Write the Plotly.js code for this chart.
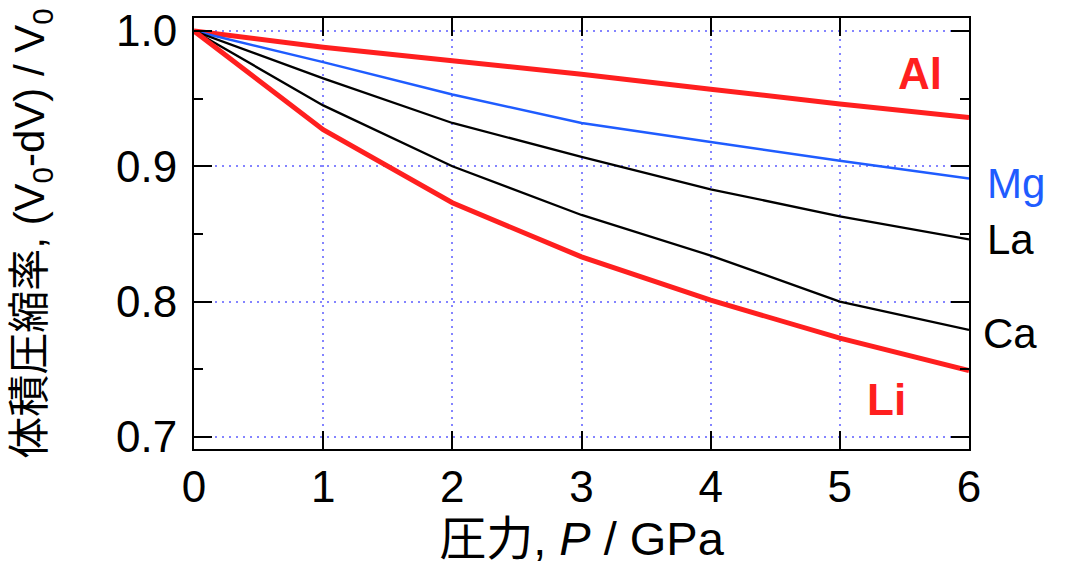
<!DOCTYPE html>
<html>
<head>
<meta charset="utf-8">
<script src="https://cdn.plot.ly/plotly-3.0.1.min.js"></script>
<style>
  html, body { margin: 0; padding: 0; background: #fff; }
  #chart { width: 1068px; height: 568px; }
</style>
</head>
<body>
<div id="chart"></div>
<script>
// Pressure (GPa) and relative volume V/V0 for each metal
const pressure = [0, 1, 2, 3, 4, 5, 6];
const al = [1.000, 0.988, 0.978, 0.968, 0.957, 0.946, 0.936];
const mg = [1.000, 0.977, 0.953, 0.932, 0.918, 0.904, 0.891];
const la = [1.000, 0.965, 0.932, 0.907, 0.883, 0.863, 0.846];
const ca = [1.000, 0.945, 0.900, 0.864, 0.834, 0.800, 0.779];
const li = [1.000, 0.927, 0.873, 0.833, 0.801, 0.773, 0.749];

const xTicks = [0, 1, 2, 3, 4, 5, 6];
const yTicks = [0.7, 0.8, 0.9, 1.0];
const yTickText = ['0.7', '0.8', '0.9', '1.0'];

const RED = '#ff1f1f';
const BLUE = '#1f5cff';
const BLACK = '#000000';
const FONT = 'Liberation Sans, Arial, Noto Sans CJK JP, sans-serif';

function series(name, y, color, width) {
  return {
    x: pressure, y: y, name: name, type: 'scatter', mode: 'lines',
    line: { color: color, width: width }, showlegend: false, hoverinfo: 'x+y+name'
  };
}

const data = [
  series('Al', al, RED, 5),
  series('Mg', mg, BLUE, 2.5),
  series('La', la, BLACK, 2.3),
  series('Ca', ca, BLACK, 2.3),
  series('Li', li, RED, 5)
];

const axisCommon = {
  showline: true, linecolor: '#000', linewidth: 2, mirror: 'allticks',
  ticks: 'inside', tickcolor: '#000', tickwidth: 2, ticklen: 18,
  showgrid: true, gridcolor: '#8484ff', gridwidth: 2, griddash: '2px,5px',
  zeroline: false, tickfont: { family: FONT, size: 44, color: '#000' }
};

const layout = {
  width: 1068, height: 568,
  margin: { l: 194, r: 99, t: 18, b: 119 },
  paper_bgcolor: '#fff', plot_bgcolor: '#fff',
  font: { family: FONT },
  xaxis: Object.assign({}, axisCommon, {
    range: [0, 6], tickvals: xTicks, ticktext: xTicks.map(String),
    ticklabelstandoff: -2,
    title: { text: '圧力, <i>P</i> / GPa', font: { family: FONT, size: 47, color: '#000' }, standoff: 12 }
  }),
  yaxis: Object.assign({}, axisCommon, {
    range: [0.691, 1.0096], tickvals: yTicks, ticktext: yTickText,
    ticklabelstandoff: 6,
    minor: { dtick: 0.05, tick0: 0.65, ticks: 'inside', ticklen: 9, tickwidth: 2, tickcolor: '#000', showgrid: false },
    title: { text: '体積圧縮率, (V<sub>0</sub>-dV) / V<sub>0</sub>', font: { family: FONT, size: 42, color: '#000' }, standoff: 58 }
  }),
  annotations: [
    { text: 'Al', x: 920, y: 73, font: { color: RED, size: 44, family: FONT, weight: 'bold' } },
    { text: 'Mg', x: 1016, y: 183, font: { color: BLUE, size: 42, family: FONT } },
    { text: 'La', x: 1010, y: 239, font: { color: BLACK, size: 42, family: FONT } },
    { text: 'Ca', x: 1010, y: 333, font: { color: BLACK, size: 42, family: FONT } },
    { text: 'Li', x: 886, y: 399, font: { color: RED, size: 44, family: FONT, weight: 'bold' } }
  ].map(a => Object.assign({
    xref: 'paper', yref: 'paper', showarrow: false, xanchor: 'center', yanchor: 'middle'
  }, a, {
    x: (a.x - 194) / 775,
    y: 1 - (a.y - 18) / 431
  }))
};

Plotly.newPlot('chart', data, layout, { displayModeBar: false, staticPlot: true });
</script>
</body>
</html>
